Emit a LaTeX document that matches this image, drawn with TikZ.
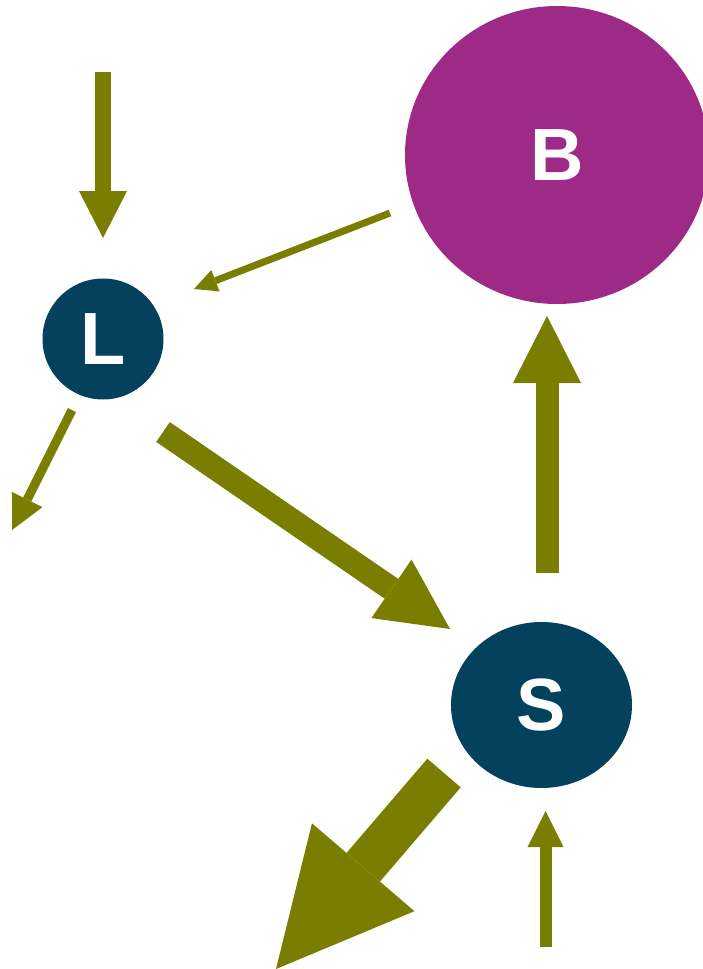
\documentclass[tikz,border=0pt]{standalone}
\usepackage{fontspec}
\setmainfont{Liberation Sans}
\usetikzlibrary{arrows.meta,shapes.geometric}
\definecolor{myolive}{HTML}{7A7E00}
\definecolor{mynavy}{HTML}{03415D}
\definecolor{mymagenta}{HTML}{9D2A86}
\begin{document}
\begin{tikzpicture}[x=1pt,y=-1pt,
  blob/.style={ellipse, inner sep=0pt, text=white, font=\fontsize{74}{74}\selectfont\bfseries},
  flowarrow/.style n args={3}{draw=myolive, line width=#1pt, line cap=butt,
     -{Triangle[length=#2pt, width=#3pt, line width=0pt]}}]
\path[use as bounding box] (0,0) rectangle (702,969);
% nodes
\node[blob, fill=mymagenta, minimum width=304pt, minimum height=298pt] (B) at (557,155) {B};
\node[blob, fill=mynavy, minimum width=121pt, minimum height=121pt] (L) at (103,339) {L};
\node[blob, fill=mynavy, minimum width=181pt, minimum height=166pt] (S) at (541.5,705) {S};
% connector end points
\coordinate (inL) at (103,72);
\coordinate (inLt) at (103,238);
\coordinate (BL0) at (390,213);
\coordinate (BL1) at (194,289);
\coordinate (LO0) at (72,410);
\coordinate (outL) at (12,530);
\coordinate (LS0) at (163,432);
\coordinate (LS1) at (450,629);
\coordinate (SB0) at (547,573);
\coordinate (SB1) at (547,316);
\coordinate (SO0) at (444,773);
\coordinate (outS) at (276,969);
\coordinate (inS) at (545.5,947);
\coordinate (inSt) at (545.5,811);
% connectors
\draw[flowarrow={16}{47}{48}] (inL) -- (inLt);
\draw[flowarrow={7}{23}{23}] (BL0) -- (BL1);
\draw[flowarrow={9}{34}{34}] (LO0) -- (outL);
\draw[flowarrow={24}{71}{71}] (LS0) -- (LS1);
\draw[flowarrow={23}{67}{68}] (SB0) -- (SB1);
\draw[flowarrow={44}{134}{135}] (SO0) -- (outS);
\draw[flowarrow={12}{36}{36}] (inS) -- (inSt);
\end{tikzpicture}
\end{document}
